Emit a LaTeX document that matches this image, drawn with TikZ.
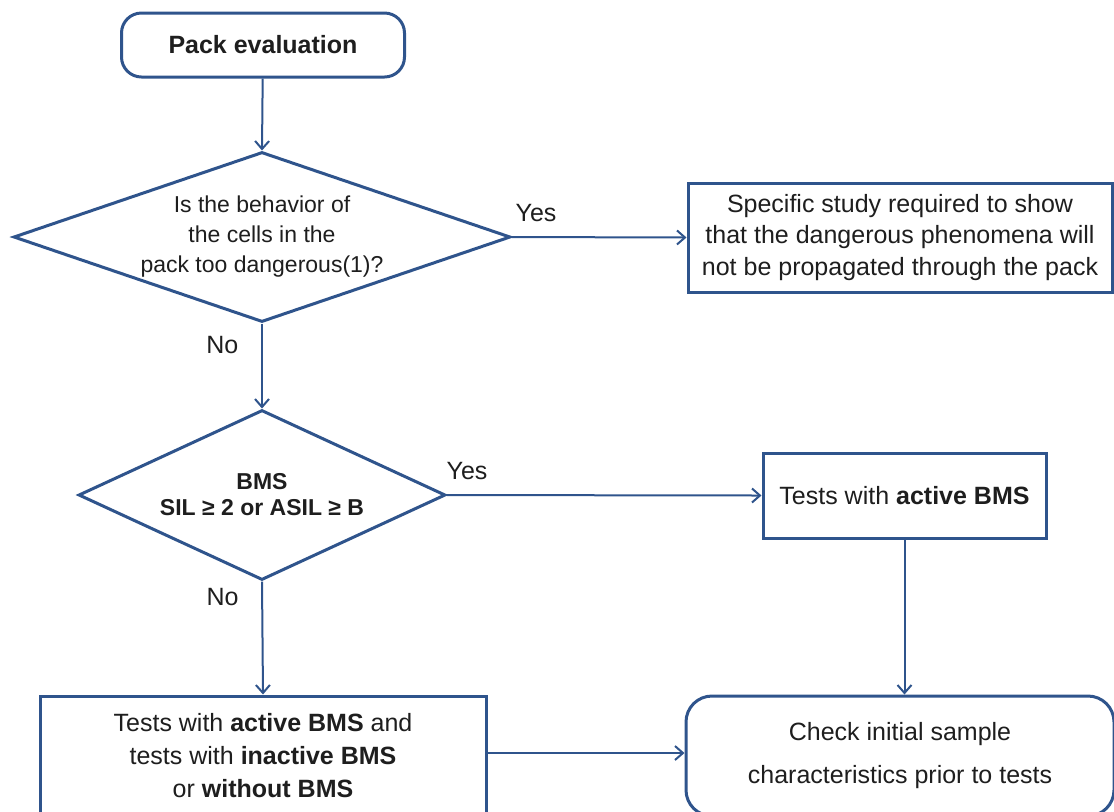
\documentclass[tikz,border=0pt]{standalone}
\usepackage{fontspec}
\setmainfont{Liberation Sans}
\usetikzlibrary{arrows.meta,shapes.geometric}
\definecolor{fblue}{RGB}{47,84,140}
\definecolor{ftext}{RGB}{30,30,30}
\tikzset{
  boxline/.style={draw=fblue, line width=1.5pt, fill=white, text=ftext, align=center},
  rbox/.style={boxline, rounded corners=10pt},
  sbox/.style={boxline},
  decision/.style={boxline, diamond, aspect=2.9, inner sep=0pt},
  conn/.style={draw=fblue, line width=1pt, -{Straight Barb[length=4pt,width=7pt,line width=1pt]}},
  lbl/.style={text=ftext, font=\fontsize{12.5}{15}\selectfont}
}
\begin{document}
\begin{tikzpicture}[x=0.5pt,y=-0.5pt]
\useasboundingbox (0,0) rectangle (1114,811);
% nodes
\node[rbox, minimum width=141.5pt, minimum height=32pt, font=\fontsize{12.5}{15}\selectfont\bfseries] (start) at (263,45) {Pack evaluation};
\node[decision, minimum width=248.5pt, minimum height=85pt, font=\fontsize{11.5}{15}\selectfont] (d1) at (262,237) {Is the behavior of\\the cells in the\\pack too dangerous(1)?};
\node[sbox, minimum width=212pt, minimum height=54.5pt, font=\fontsize{12.5}{15.75}\selectfont] (spec) at (900,237.5) {Specific study required to show\\that the dangerous phenomena will\\not be propagated through the pack};
\node[decision, minimum width=183.5pt, minimum height=85pt, font=\fontsize{11.5}{13}\selectfont\bfseries] (d2) at (262,495) {BMS\\SIL ≥ 2 or ASIL ≥ B};
\node[sbox, minimum width=141.5pt, minimum height=42.5pt, font=\fontsize{12.5}{15}\selectfont] (active) at (904.5,495.5) {Tests with \textbf{active BMS}};
\node[sbox, minimum width=223pt, minimum height=60pt, font=\fontsize{12.5}{16.5}\selectfont] (both) at (263,756) {Tests with \textbf{active BMS} and\\tests with \textbf{inactive BMS}\\or \textbf{without BMS}};
\node[rbox, rounded corners=13pt, minimum width=214pt, minimum height=60pt, font=\fontsize{12.5}{21.5}\selectfont] (check) at (900,756) {Check initial sample\\characteristics prior to tests};
% connectors
\draw[conn] (start) -- (d1.north);
\draw[conn] (d1.east) -- (spec.west) node[lbl, pos=0, anchor=south west, xshift=-2pt, yshift=4pt] (yes1) {Yes};
\draw[conn] (d1.south) -- (d2.north) node[lbl, pos=0.25, left, xshift=-8pt] (no1) {No};
\draw[conn] (d2.east) -- (active.west) node[lbl, pos=0, anchor=south west, xshift=-4pt, yshift=4pt] (yes2) {Yes};
\draw[conn] (d2.south) -- (both.north) node[lbl, pos=0.14, left, xshift=-8pt] (no2) {No};
\draw[conn] (active.south) -- (active.south |- check.north);
\draw[conn] (both.east |- 0,753) -- (check.west |- 0,753);
\end{tikzpicture}
\end{document}
